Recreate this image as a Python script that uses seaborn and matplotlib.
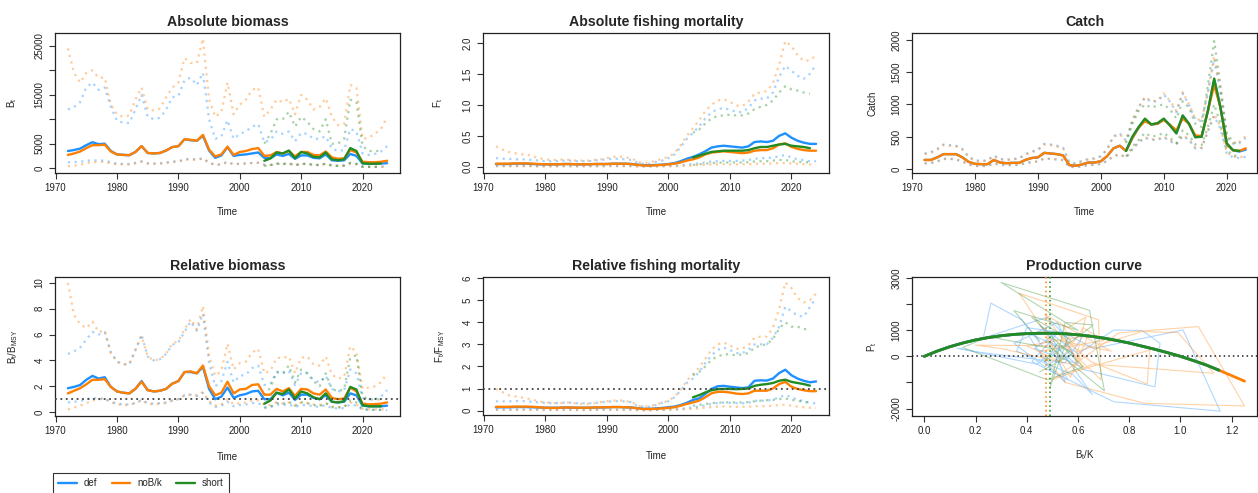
import matplotlib
matplotlib.use("Agg")
import matplotlib.pyplot as plt
from matplotlib.lines import Line2D
import pandas as pd
import seaborn as sns

# ---------------------------------------------------------------- data
years = list(range(1972, 2025))
years_short = list(range(2004, 2024))
catch_years = list(range(1972, 2024))
catch_years_short = list(range(2004, 2023))
models = ["def", "noB/k", "short"]

# Absolute biomass B_t
def_B = [3500, 3700, 4000, 4700, 5300, 4900, 5000, 3500, 2800, 2700,
         2650, 3300, 4500, 3100, 3000, 3100, 3600, 4300, 4500, 5900,
         5700, 5600, 6600, 3600, 2100, 2600, 4300, 2500, 2700, 2800,
         3000, 3200, 2100, 2000, 2800, 2500, 2900, 1900, 2600, 2600,
         2100, 2000, 2800, 1600, 1500, 1600, 2900, 2500, 950, 900,
         900, 950, 1000]
def_B_lo = [1200, 1250, 1300, 1500, 1600, 1550, 1550, 1200, 900, 850,
            850, 1100, 1400, 1000, 950, 1000, 1150, 1350, 1400, 1800,
            1900, 1800, 2000, 1100, 700, 800, 1300, 800, 900, 950,
            1050, 1100, 700, 650, 950, 850, 950, 650, 850, 850,
            700, 650, 900, 550, 500, 550, 1000, 850, 300, 280,
            280, 300, 300]
def_B_hi = [12000, 12500, 13500, 16500, 17500, 16000, 16500, 12500, 9700, 9300,
            9200, 12000, 15000, 10500, 10000, 10300, 12000, 14500, 14800, 18000,
            18500, 17000, 19500, 10000, 6000, 6500, 9800, 6000, 7000, 7500,
            8500, 9000, 5300, 5800, 7500, 7000, 7500, 5500, 7200, 7000,
            6000, 6000, 6500, 4000, 3500, 3700, 8000, 7500, 3000, 2700,
            2900, 3400, 4500]
nobk_B = [2700, 3000, 3400, 4100, 4700, 4700, 4800, 3400, 2800, 2700,
          2650, 3300, 4500, 3100, 3000, 3100, 3600, 4300, 4500, 5900,
          5800, 5600, 6800, 3800, 2400, 2800, 4400, 2700, 3300, 3500,
          3900, 4100, 2500, 2600, 3300, 3000, 3500, 2400, 3300, 3300,
          2700, 2600, 3400, 2200, 1900, 2000, 3700, 3200, 1300, 1200,
          1200, 1300, 1500]
nobk_B_lo = [400, 500, 700, 1000, 1200, 1250, 1300, 950, 800, 750,
             750, 950, 1300, 900, 850, 900, 1050, 1250, 1300, 1700,
             1750, 1650, 2000, 1100, 650, 750, 1200, 750, 900, 950,
             1050, 1100, 650, 650, 900, 800, 900, 600, 850, 850,
             700, 650, 850, 550, 450, 500, 900, 750, 300, 250,
             250, 280, 300]
nobk_B_hi = [24500, 19500, 17500, 19500, 20000, 18500, 18500, 13000, 11000, 10500,
             10800, 14000, 16500, 12000, 11800, 12200, 14500, 16500, 17500, 22500,
             21500, 21500, 26500, 14000, 10500, 11500, 17500, 11000, 13000, 14000,
             16000, 16500, 10500, 12000, 14000, 13500, 14200, 11000, 15000, 14000,
             12000, 12500, 14300, 10500, 8800, 9000, 17000, 16500, 6000, 6200,
             7000, 8000, 10500]
short_B = [1500, 2000, 3200, 3000, 3600, 2000, 3300, 3000, 2300, 2200,
           3200, 1800, 1600, 1800, 4100, 3500, 1000, 900, 900, 950]
short_B_lo = [400, 600, 900, 850, 1000, 550, 900, 850, 650, 600,
              900, 500, 450, 500, 1100, 900, 250, 250, 220, 250]
short_B_hi = [5000, 7000, 10000, 10000, 11500, 8500, 10500, 9500, 8000, 7500,
              10000, 5000, 5000, 6000, 14000, 13500, 4500, 3500, 3500, 3500]

# Absolute fishing mortality F_t
def_F = [0.045, 0.045, 0.045, 0.05, 0.05, 0.05, 0.045, 0.04, 0.04, 0.04,
         0.04, 0.045, 0.045, 0.04, 0.04, 0.04, 0.045, 0.045, 0.045, 0.05,
         0.05, 0.05, 0.045, 0.035, 0.025, 0.025, 0.03, 0.035, 0.045, 0.06,
         0.09, 0.13, 0.16, 0.2, 0.25, 0.31, 0.33, 0.34, 0.33, 0.32,
         0.31, 0.33, 0.4, 0.41, 0.4, 0.42, 0.5, 0.54, 0.47, 0.42,
         0.39, 0.37, 0.37]
def_F_lo = [0.015, 0.015, 0.015, 0.015, 0.015, 0.015, 0.015, 0.012, 0.012, 0.012,
            0.012, 0.013, 0.013, 0.012, 0.012, 0.012, 0.013, 0.013, 0.014, 0.015,
            0.015, 0.015, 0.014, 0.01, 0.008, 0.008, 0.01, 0.012, 0.015, 0.02,
            0.025, 0.035, 0.045, 0.055, 0.07, 0.085, 0.09, 0.095, 0.095, 0.095,
            0.1, 0.11, 0.13, 0.14, 0.14, 0.15, 0.17, 0.19, 0.15, 0.12,
            0.11, 0.09, 0.09]
def_F_hi = [0.14, 0.13, 0.13, 0.12, 0.12, 0.12, 0.11, 0.1, 0.09, 0.09,
            0.09, 0.1, 0.1, 0.09, 0.09, 0.09, 0.1, 0.11, 0.12, 0.13,
            0.13, 0.12, 0.11, 0.07, 0.05, 0.05, 0.08, 0.1, 0.14, 0.2,
            0.32, 0.45, 0.55, 0.65, 0.78, 0.88, 0.93, 0.95, 0.92, 0.89,
            0.88, 0.95, 1.07, 1.1, 1.1, 1.2, 1.45, 1.63, 1.55, 1.47,
            1.42, 1.5, 1.65]
nobk_F = [0.05, 0.05, 0.05, 0.055, 0.055, 0.055, 0.05, 0.045, 0.04, 0.04,
          0.04, 0.045, 0.045, 0.04, 0.04, 0.04, 0.045, 0.045, 0.045, 0.05,
          0.05, 0.05, 0.045, 0.03, 0.02, 0.02, 0.025, 0.03, 0.04, 0.05,
          0.07, 0.1, 0.12, 0.15, 0.2, 0.23, 0.24, 0.25, 0.24, 0.23,
          0.22, 0.23, 0.26, 0.27, 0.27, 0.3, 0.36, 0.38, 0.32, 0.29,
          0.27, 0.26, 0.26]
nobk_F_lo = [0.008, 0.008, 0.008, 0.009, 0.009, 0.009, 0.008, 0.007, 0.007, 0.007,
             0.007, 0.008, 0.008, 0.007, 0.007, 0.007, 0.008, 0.008, 0.008, 0.009,
             0.009, 0.009, 0.008, 0.006, 0.004, 0.004, 0.005, 0.006, 0.008, 0.01,
             0.014, 0.018, 0.022, 0.027, 0.033, 0.038, 0.04, 0.042, 0.041, 0.04,
             0.039, 0.041, 0.048, 0.05, 0.05, 0.055, 0.06, 0.065, 0.055, 0.048,
             0.042, 0.038, 0.036]
nobk_F_hi = [0.33, 0.28, 0.24, 0.22, 0.2, 0.2, 0.17, 0.14, 0.12, 0.11,
             0.11, 0.12, 0.11, 0.1, 0.1, 0.1, 0.11, 0.12, 0.14, 0.16,
             0.17, 0.15, 0.14, 0.08, 0.06, 0.07, 0.1, 0.13, 0.16, 0.22,
             0.35, 0.5, 0.62, 0.75, 0.9, 1.0, 1.07, 1.09, 1.05, 0.99,
             0.98, 1.05, 1.18, 1.2, 1.22, 1.35, 1.65, 2.03, 1.95, 1.8,
             1.71, 1.72, 1.8]
short_F = [0.15, 0.18, 0.21, 0.24, 0.25, 0.26, 0.26, 0.26, 0.26, 0.27,
           0.3, 0.32, 0.32, 0.34, 0.36, 0.37, 0.34, 0.33, 0.32, 0.3]
short_F_lo = [0.03, 0.04, 0.05, 0.06, 0.065, 0.07, 0.07, 0.07, 0.07, 0.075,
              0.085, 0.09, 0.09, 0.1, 0.11, 0.11, 0.09, 0.08, 0.075, 0.07]
short_F_hi = [0.55, 0.6, 0.7, 0.78, 0.82, 0.83, 0.84, 0.83, 0.83, 0.86,
              0.93, 0.97, 1.0, 1.07, 1.2, 1.3, 1.25, 1.23, 1.2, 1.18]

# Catch
def_C = [140, 140, 180, 230, 230, 230, 180, 110, 80, 75,
         75, 140, 100, 90, 95, 95, 140, 170, 180, 250,
         240, 230, 210, 60, 50, 70, 100, 100, 120, 200,
         320, 360, 280, 480, 640, 760, 690, 700, 770, 680,
         560, 820, 700, 500, 500, 900, 1380, 950, 380, 290,
         270, 300]
def_C_lo = [85, 90, 115, 155, 155, 145, 115, 68, 48, 44,
            48, 85, 62, 58, 58, 62, 88, 105, 115, 160,
            155, 145, 135, 33, 28, 43, 62, 62, 78, 125,
            195, 225, 175, 300, 410, 480, 450, 450, 490, 430,
            380, 510, 450, 320, 320, 580, 820, 620, 240, 180,
            170, 190]
def_C_hi = [240, 260, 310, 380, 370, 360, 310, 190, 135, 125,
            135, 210, 155, 145, 155, 165, 230, 270, 300, 390,
            380, 360, 330, 105, 85, 125, 155, 165, 200, 310,
            510, 550, 440, 760, 960, 1100, 1040, 1050, 1150, 1040,
            880, 1170, 990, 770, 740, 1180, 1700, 1180, 490, 390,
            400, 480]
nobk_C = [140, 140, 180, 230, 230, 230, 180, 110, 80, 75,
          75, 140, 100, 90, 95, 95, 140, 170, 180, 250,
          240, 230, 210, 60, 50, 70, 100, 100, 120, 200,
          320, 360, 280, 480, 640, 740, 690, 700, 760, 680,
          600, 780, 700, 520, 510, 900, 1300, 950, 380, 290,
          280, 320]
nobk_C_lo = [90, 95, 120, 160, 160, 150, 120, 70, 50, 45,
             50, 90, 65, 60, 60, 65, 90, 110, 120, 165,
             160, 150, 140, 35, 30, 45, 65, 65, 80, 130,
             200, 230, 180, 310, 420, 490, 460, 460, 500, 440,
             390, 520, 460, 330, 330, 600, 850, 650, 250, 190,
             180, 200]
nobk_C_hi = [230, 250, 300, 370, 360, 350, 300, 180, 130, 120,
             130, 200, 150, 140, 150, 160, 220, 260, 290, 380,
             370, 350, 320, 100, 80, 120, 150, 160, 190, 300,
             500, 540, 430, 750, 950, 1120, 1050, 1060, 1170, 1050,
             900, 1190, 1000, 780, 750, 1200, 1750, 1200, 500, 400,
             420, 510]
short_C = [280, 500, 650, 780, 690, 710, 780, 670, 550, 830,
           700, 490, 500, 900, 1400, 950, 400, 290, 280]
short_C_lo = [190, 340, 450, 560, 500, 520, 560, 480, 400, 600,
              520, 380, 370, 650, 1000, 700, 300, 210, 200]
short_C_hi = [400, 700, 900, 1000, 950, 980, 1000, 920, 780, 1050,
              950, 700, 650, 1300, 1980, 1300, 550, 420, 380]

# Relative biomass B_t/B_MSY
def_BB = [1.85, 1.95, 2.1, 2.5, 2.8, 2.6, 2.7, 1.95, 1.6, 1.5,
          1.45, 1.8, 2.4, 1.7, 1.6, 1.65, 1.8, 2.2, 2.4, 3.1,
          3.1, 3.0, 3.5, 1.8, 1.0, 1.2, 1.9, 1.1, 1.3, 1.4,
          1.6, 1.65, 1.0, 1.0, 1.5, 1.3, 1.5, 0.95, 1.35, 1.35,
          1.1, 1.0, 1.3, 0.8, 0.75, 0.8, 1.45, 1.3, 0.5, 0.45,
          0.45, 0.45, 0.5]
def_BB_lo = [0.75, 0.8, 0.85, 1.0, 1.1, 1.05, 1.05, 0.8, 0.65, 0.6,
             0.6, 0.7, 0.95, 0.7, 0.65, 0.7, 0.75, 0.9, 1.0, 1.3,
             1.35, 1.25, 1.5, 0.75, 0.4, 0.5, 0.8, 0.45, 0.55, 0.6,
             0.7, 0.7, 0.4, 0.4, 0.6, 0.55, 0.6, 0.4, 0.55, 0.55,
             0.45, 0.4, 0.55, 0.3, 0.3, 0.3, 0.6, 0.5, 0.2, 0.18,
             0.17, 0.17, 0.15]
def_BB_hi = [4.5, 4.7, 5.0, 5.6, 6.2, 6.0, 6.2, 4.6, 3.9, 3.7,
             3.7, 4.8, 6.0, 4.3, 4.0, 4.1, 4.5, 5.2, 5.4, 6.2,
             7.0, 6.3, 7.6, 3.8, 2.0, 2.4, 3.9, 2.3, 2.8, 2.9,
             3.4, 3.6, 2.1, 2.2, 3.1, 3.0, 3.2, 2.1, 3.0, 3.0,
             2.5, 2.3, 2.8, 1.8, 1.6, 1.7, 3.3, 3.0, 1.1, 1.0,
             1.0, 1.2, 1.7]
nobk_BB = [1.45, 1.65, 1.85, 2.15, 2.5, 2.5, 2.55, 1.95, 1.6, 1.5,
           1.45, 1.8, 2.35, 1.7, 1.6, 1.65, 1.8, 2.2, 2.4, 3.1,
           3.15, 3.0, 3.6, 2.0, 1.3, 1.5, 2.35, 1.45, 1.75, 1.8,
           2.1, 2.15, 1.35, 1.35, 1.8, 1.6, 1.85, 1.25, 1.8, 1.75,
           1.45, 1.35, 1.75, 1.1, 1.0, 1.05, 1.9, 1.6, 0.65, 0.6,
           0.62, 0.65, 0.75]
nobk_BB_lo = [0.2, 0.35, 0.5, 0.7, 0.9, 1.0, 1.0, 0.8, 0.6, 0.55,
              0.55, 0.7, 0.9, 0.65, 0.6, 0.65, 0.7, 0.9, 1.0, 1.3,
              1.35, 1.3, 1.55, 0.85, 0.5, 0.6, 1.0, 0.6, 0.7, 0.75,
              0.9, 0.9, 0.55, 0.55, 0.75, 0.65, 0.75, 0.5, 0.75, 0.7,
              0.6, 0.55, 0.7, 0.45, 0.4, 0.4, 0.75, 0.6, 0.25, 0.22,
              0.22, 0.22, 0.2]
nobk_BB_hi = [10.0, 7.5, 6.8, 6.5, 7.0, 6.2, 6.3, 4.6, 3.9, 3.7,
              3.7, 4.8, 5.9, 4.3, 4.0, 4.1, 4.5, 5.3, 5.5, 6.4,
              7.2, 6.4, 8.2, 4.4, 2.8, 3.2, 5.3, 3.3, 3.8, 3.9,
              4.6, 4.9, 3.0, 3.2, 4.2, 4.2, 4.3, 3.0, 4.2, 4.3,
              3.7, 3.6, 4.3, 2.9, 2.6, 2.7, 5.1, 4.6, 1.8, 1.9,
              2.0, 2.3, 3.0]
short_BB = [0.65, 0.9, 1.5, 1.4, 1.75, 1.05, 1.6, 1.45, 1.15, 1.0,
            1.45, 0.8, 0.75, 0.85, 1.95, 1.75, 0.55, 0.45, 0.45, 0.45]
short_BB_lo = [0.3, 0.4, 0.7, 0.65, 0.8, 0.5, 0.75, 0.7, 0.55, 0.45,
               0.7, 0.38, 0.35, 0.4, 0.9, 0.75, 0.22, 0.2, 0.18, 0.18]
short_BB_hi = [1.3, 1.9, 3.1, 3.0, 3.6, 2.3, 3.3, 3.0, 2.4, 2.0,
               3.0, 1.8, 1.6, 1.8, 4.2, 4.4, 1.2, 1.0, 0.95, 1.0]

# Relative fishing mortality F_t/F_MSY
def_FF = [0.15, 0.15, 0.15, 0.16, 0.16, 0.16, 0.15, 0.14, 0.13, 0.13,
          0.13, 0.14, 0.14, 0.13, 0.13, 0.13, 0.14, 0.14, 0.15, 0.16,
          0.16, 0.15, 0.14, 0.11, 0.08, 0.08, 0.1, 0.12, 0.15, 0.18,
          0.25, 0.35, 0.48, 0.55, 0.75, 0.98, 1.1, 1.12, 1.08, 1.05,
          1.02, 1.05, 1.35, 1.37, 1.36, 1.45, 1.7, 1.85, 1.6, 1.45,
          1.35, 1.28, 1.32]
def_FF_lo = [0.05, 0.05, 0.05, 0.05, 0.05, 0.05, 0.05, 0.05, 0.04, 0.04,
             0.04, 0.05, 0.05, 0.04, 0.04, 0.04, 0.05, 0.05, 0.05, 0.05,
             0.05, 0.05, 0.05, 0.04, 0.03, 0.03, 0.03, 0.04, 0.05, 0.06,
             0.08, 0.11, 0.15, 0.18, 0.24, 0.3, 0.34, 0.36, 0.35, 0.34,
             0.33, 0.35, 0.44, 0.45, 0.45, 0.5, 0.6, 0.7, 0.6, 0.5,
             0.42, 0.36, 0.32]
def_FF_hi = [0.42, 0.42, 0.42, 0.43, 0.43, 0.42, 0.4, 0.37, 0.35, 0.34,
             0.34, 0.36, 0.36, 0.34, 0.33, 0.33, 0.35, 0.37, 0.4, 0.42,
             0.43, 0.41, 0.38, 0.2, 0.18, 0.18, 0.25, 0.35, 0.42, 0.6,
             0.9, 1.25, 1.45, 1.75, 2.15, 2.5, 2.75, 2.85, 2.75, 2.6,
             2.6, 2.75, 3.0, 3.0, 3.0, 3.3, 3.8, 4.7, 4.5, 4.3,
             4.25, 4.7, 5.1]
nobk_FF = [0.17, 0.17, 0.17, 0.18, 0.18, 0.18, 0.17, 0.15, 0.13, 0.12,
           0.12, 0.14, 0.14, 0.13, 0.13, 0.13, 0.14, 0.15, 0.15, 0.16,
           0.16, 0.15, 0.14, 0.1, 0.07, 0.07, 0.08, 0.1, 0.12, 0.15,
           0.22, 0.3, 0.37, 0.45, 0.6, 0.78, 0.85, 0.85, 0.82, 0.77,
           0.75, 0.78, 0.9, 0.9, 0.9, 1.0, 1.2, 1.3, 1.08, 0.98,
           0.92, 0.88, 0.88]
nobk_FF_lo = [0.03, 0.03, 0.03, 0.03, 0.03, 0.03, 0.03, 0.03, 0.02, 0.02,
              0.02, 0.03, 0.03, 0.02, 0.02, 0.02, 0.03, 0.03, 0.03, 0.03,
              0.03, 0.03, 0.03, 0.02, 0.01, 0.01, 0.02, 0.02, 0.03, 0.04,
              0.05, 0.07, 0.08, 0.1, 0.13, 0.16, 0.18, 0.19, 0.18, 0.17,
              0.17, 0.18, 0.2, 0.2, 0.2, 0.22, 0.25, 0.27, 0.22, 0.18,
              0.15, 0.13, 0.12]
nobk_FF_hi = [0.98, 0.85, 0.7, 0.65, 0.6, 0.55, 0.5, 0.4, 0.38, 0.35,
              0.33, 0.35, 0.38, 0.32, 0.3, 0.3, 0.33, 0.38, 0.42, 0.45,
              0.47, 0.42, 0.4, 0.22, 0.18, 0.2, 0.28, 0.35, 0.45, 0.62,
              0.95, 1.35, 1.65, 1.95, 2.35, 2.75, 3.0, 3.08, 2.95, 2.8,
              2.8, 2.95, 3.3, 3.35, 3.35, 3.75, 4.6, 5.8, 5.55, 5.1,
              4.9, 5.0, 5.3]
short_FF = [0.6, 0.7, 0.82, 0.92, 0.97, 0.98, 0.98, 0.97, 0.98, 1.0,
            1.12, 1.17, 1.2, 1.25, 1.35, 1.4, 1.3, 1.25, 1.2, 1.13]
short_FF_lo = [0.22, 0.26, 0.3, 0.34, 0.36, 0.37, 0.37, 0.37, 0.37, 0.38,
               0.42, 0.45, 0.47, 0.48, 0.52, 0.55, 0.48, 0.45, 0.4, 0.35]
short_FF_hi = [1.6, 1.75, 2.0, 2.3, 2.45, 2.55, 2.55, 2.5, 2.55, 2.6,
               2.85, 2.95, 3.0, 3.25, 3.7, 4.0, 3.8, 3.8, 3.7, 3.65]

# Production curve (B_t/K, P_t) and yearly trajectories
curve_bk = [0.0, 0.05, 0.1, 0.15, 0.2, 0.25, 0.3, 0.35, 0.4, 0.45,
            0.5, 0.55, 0.6, 0.65, 0.7, 0.75, 0.8, 0.85, 0.9, 0.95,
            1.0, 1.05, 1.1, 1.15, 1.2, 1.25]
curve_p = [0, 200, 370, 510, 630, 720, 790, 840, 870, 885,
           885, 865, 825, 770, 700, 610, 510, 390, 270, 140,
           0, -160, -330, -530, -740, -950]
curve_end = {"def": 24, "noB/k": 26, "short": 24}
bmsy_k = {"noB/k": 0.475, "short": 0.49}

traj_def_bk = [0.46, 0.38, 0.26, 0.23, 0.48, 0.57, 0.44, 0.13, 0.22, 0.55,
               0.62, 0.40, 0.36, 0.58, 0.656, 0.52, 0.45, 0.60, 0.74, 0.85,
               0.92, 0.90, 0.62, 0.48, 0.56, 0.42, 0.53, 0.66, 1.01, 1.155,
               0.74, 0.50, 0.40, 0.57, 0.47, 0.35, 0.52, 0.60, 0.43, 0.50,
               0.55, 0.46]
traj_def_p = [400, 1400, 2040, 700, 1500, 600, -300, 310, 150, -250,
              800, 1100, 200, -700, -1460, 400, 1200, 100, 1010, 990,
              500, -1170, -500, 600, -900, -200, 1000, 300, 1010, -2100,
              -1740, -600, 900, 200, -400, 500, 1300, -300, 300, 800,
              -1000, -100]
traj_nobk_bk = [0.50, 0.37, 0.68, 0.69, 0.55, 0.20, 0.30, 0.62, 0.47, 0.56,
                0.63, 0.58, 0.88, 0.87, 0.65, 0.52, 0.60, 0.85, 0.99, 1.13,
                0.66, 0.50, 0.76, 1.07, 1.25, 0.86, 0.55, 0.45, 0.70, 0.62,
                0.53, 0.40, 0.64, 0.57, 0.48, 0.73, 0.54, 0.61]
traj_nobk_p = [500, 2420, 1400, -900, 400, 430, 300, -400, 1600, 1100,
               1500, -600, 240, -1060, -200, 900, 200, 950, 910, -650,
               -300, -900, 900, 1140, -1900, -1800, -1000, 200, 600, 1100,
               -200, 400, 800, -800, 700, 200, 1200, -100]
traj_short_bk = [0.45, 0.35, 0.60, 0.30, 0.645, 0.703, 0.50, 0.25, 0.15, 0.48,
                 0.62, 0.42, 0.56, 0.49, 0.55, 0.66, 0.47, 0.52, 0.58, 0.45]
traj_short_p = [600, 1750, 1000, 2830, 1760, -1320, 300, 750, 340, -900,
                -400, 1500, 700, -1200, 1300, 1200, -200, 500, 100, -600]

# ---------------------------------------------------------------- style
sns.set_style("ticks")
plt.rcParams["font.family"] = ["Liberation Sans", "DejaVu Sans"]
plt.rcParams["mathtext.fontset"] = "custom"
plt.rcParams["mathtext.rm"] = "Liberation Sans"
plt.rcParams["mathtext.it"] = "Liberation Sans:italic"
plt.rcParams["mathtext.bf"] = "Liberation Sans:bold"

COL = {"def": "#1E90FF", "noB/k": "#FF7F00", "short": "#228B22"}
DOT = (0, (1, 2))
W, H = 1258, 493
TICK_FS = 7

fig = plt.figure(figsize=(W / 100, H / 100), dpi=100)


def panel(l, t, r, b):
    return fig.add_axes([l / W, 1 - b / H, (r - l) / W, (b - t) / H])


def draw_time_panel(ax, series):
    # series: list of (model, t, mid, lo, hi)
    for model, t, mid, lo, hi in series:
        df = pd.DataFrame({"t": t, "lo": lo, "hi": hi})
        for col in ("lo", "hi"):
            sns.lineplot(data=df, x="t", y=col, ax=ax, color=COL[model],
                         alpha=0.4, lw=1.6, linestyle=DOT,
                         estimator=None, sort=False)
    for model, t, mid, lo, hi in series:
        df = pd.DataFrame({"t": t, "mid": mid})
        sns.lineplot(data=df, x="t", y="mid", ax=ax, color=COL[model],
                     lw=1.7, estimator=None, sort=False)


def finish(ax, title, ylabel, xlabel, xlim, ylim, xticks, xlabels,
           yticks, ylabels, ylab_dx, xlab_dy):
    ax.set_xlim(xlim)
    ax.set_ylim(ylim)
    ax.set_xticks(xticks)
    ax.set_xticklabels(xlabels)
    ax.set_yticks(yticks)
    ax.set_yticklabels(ylabels)
    ax.tick_params(direction="out", length=4, width=0.8, labelsize=TICK_FS,
                   pad=3.5, color="#333333", labelcolor="#222222")
    for lab in ax.get_yticklabels():
        lab.set_rotation(90)
        lab.set_va("center")
    for sp in ax.spines.values():
        sp.set_linewidth(0.9)
        sp.set_color("#222222")
    ax.set_title(title, fontsize=10.2, fontweight="bold", pad=5)
    ax.set_xlabel(xlabel, fontsize=TICK_FS, color="#222222")
    ax.set_ylabel(ylabel, fontsize=TICK_FS, color="#222222")
    bb = ax.get_position()
    wpx, hpx = bb.width * W, bb.height * H
    ax.yaxis.set_label_coords(ylab_dx / wpx, 0.5)
    ax.yaxis.label.set_va("center")
    ax.xaxis.set_label_coords(0.5, -xlab_dy / hpx)
    ax.xaxis.label.set_va("center")


year_ticks = [1970, 1980, 1990, 2000, 2010, 2020]
year_labels = [str(y) for y in year_ticks]
XLIM = (1969.9, 2026.1)

# Absolute biomass
ax1 = panel(55, 33, 400, 173)
draw_time_panel(ax1, [
    ("def", years, def_B, def_B_lo, def_B_hi),
    ("noB/k", years, nobk_B, nobk_B_lo, nobk_B_hi),
    ("short", years_short, short_B, short_B_lo, short_B_hi),
])
finish(ax1, "Absolute biomass", r"$\mathrm{B_t}$", "Time", XLIM, (-1000, 27650),
       year_ticks, year_labels,
       [0, 5000, 10000, 15000, 20000, 25000],
       ["0", "5000", "", "15000", "", "25000"], -43, 39)

# Absolute fishing mortality
ax2 = panel(483, 33, 829, 173)
draw_time_panel(ax2, [
    ("def", years, def_F, def_F_lo, def_F_hi),
    ("noB/k", years, nobk_F, nobk_F_lo, nobk_F_hi),
    ("short", years_short, short_F, short_F_lo, short_F_hi),
])
finish(ax2, "Absolute fishing mortality", r"$\mathrm{F_t}$", "Time", XLIM,
       (-0.1, 2.16), year_ticks, year_labels,
       [0.0, 0.5, 1.0, 1.5, 2.0], ["0.0", "0.5", "1.0", "1.5", "2.0"], -45, 39)

# Catch
ax3 = panel(912, 33, 1257, 173)
draw_time_panel(ax3, [
    ("def", catch_years, def_C, def_C_lo, def_C_hi),
    ("noB/k", catch_years, nobk_C, nobk_C_lo, nobk_C_hi),
    ("short", catch_years_short, short_C, short_C_lo, short_C_hi),
])
finish(ax3, "Catch", "Catch", "Time", (1970, 2024.8), (-62, 2105),
       year_ticks, year_labels,
       [0, 500, 1000, 1500, 2000], ["0", "500", "1000", "1500", "2000"], -40, 39)

# Relative biomass
ax4 = panel(55, 277, 400, 416)
draw_time_panel(ax4, [
    ("def", years, def_BB, def_BB_lo, def_BB_hi),
    ("noB/k", years, nobk_BB, nobk_BB_lo, nobk_BB_hi),
    ("short", years_short, short_BB, short_BB_lo, short_BB_hi),
])
ax4.axhline(1, color="#444444", lw=1.3, linestyle=DOT, zorder=5)
finish(ax4, "Relative biomass", r"$\mathrm{B_t/B_{MSY}}$", "Time", XLIM,
       (-0.3, 10.45), year_ticks, year_labels,
       [0, 2, 4, 6, 8, 10], ["0", "2", "4", "6", "8", "10"], -42, 41)

# Relative fishing mortality
ax5 = panel(483, 277, 829, 415)
draw_time_panel(ax5, [
    ("def", years, def_FF, def_FF_lo, def_FF_hi),
    ("noB/k", years, nobk_FF, nobk_FF_lo, nobk_FF_hi),
    ("short", years_short, short_FF, short_FF_lo, short_FF_hi),
])
ax5.axhline(1, color="#444444", lw=1.3, linestyle=DOT, zorder=5)
finish(ax5, "Relative fishing mortality", r"$\mathrm{F_t/F_{MSY}}$", "Time", XLIM,
       (-0.2, 6.05), year_ticks, year_labels,
       [0, 1, 2, 3, 4, 5, 6], ["0", "1", "2", "3", "4", "5", "6"], -43, 41)

# Production curve
ax6 = panel(912, 277, 1257, 416)
for model, bk, p in [("def", traj_def_bk, traj_def_p),
                     ("noB/k", traj_nobk_bk, traj_nobk_p),
                     ("short", traj_short_bk, traj_short_p)]:
    sns.lineplot(x=bk, y=p, ax=ax6, color=COL[model], alpha=0.35, lw=0.8,
                 estimator=None, sort=False)
ax6.axhline(0, color="#222222", lw=1.1, linestyle=DOT, zorder=3)
for model, v in bmsy_k.items():
    ax6.axvline(v, color=COL[model], lw=1.1, linestyle=DOT, zorder=3)
for model in ["noB/k", "def", "short"]:
    n = curve_end[model]
    sns.lineplot(x=curve_bk[:n], y=curve_p[:n], ax=ax6, color=COL[model],
                 lw=2.0, estimator=None, sort=False, zorder=4)
finish(ax6, "Production curve", r"$\mathrm{P_t}$", r"$\mathrm{B_t/K}$",
       (-0.048, 1.2986), (-2285, 3040),
       [0.0, 0.2, 0.4, 0.6, 0.8, 1.0, 1.2],
       ["0.0", "0.2", "0.4", "0.6", "0.8", "1.0", "1.2"],
       [-2000, -1000, 0, 1000, 2000, 3000],
       ["-2000", "", "0", "1000", "", "3000"], -40, 39)

# Shared legend below the left column
handles = [Line2D([], [], color=COL[m], lw=1.7) for m in models]
leg = fig.legend(handles, models, loc="upper left",
                 bbox_to_anchor=(53 / W, 1 - 473 / H),
                 bbox_transform=fig.transFigure, ncol=3, fontsize=TICK_FS,
                 frameon=True, fancybox=False, edgecolor="black",
                 handlelength=1.9, handletextpad=0.7, columnspacing=1.5,
                 borderpad=0.55, borderaxespad=0)
leg.get_frame().set_linewidth(0.8)

fig.savefig("out.png", dpi=100)
